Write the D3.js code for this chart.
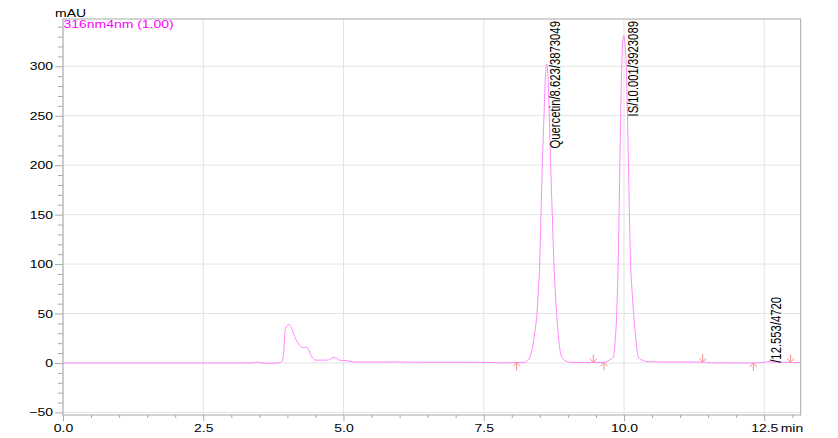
<!DOCTYPE html>
<html><head><meta charset="utf-8">
<script src="https://cdn.jsdelivr.net/npm/d3@7"></script>
<style>
html,body{margin:0;padding:0;background:#fff;}
svg{display:block;font-family:"Liberation Sans",Arial,sans-serif;}
</style></head>
<body>
<svg id="chart" width="838" height="438"></svg>
<script>
// ---- data ----
const traceTime = [0.00,3.40,3.45,3.50,3.60,3.75,3.85,3.90,3.93,3.96,4.00,4.034,4.07,4.105,4.15,4.194,4.24,4.283,4.33,4.355,4.38,4.403,4.45,4.492,4.60,4.73,4.78,4.83,4.88,4.94,5.057,5.175,5.50,5.90,5.95,6.00,6.50,7.00,7.50,7.70,7.80,7.90,8.00,8.10,8.235,8.29,8.324,8.37,8.41,8.449,8.475,8.497,8.52,8.544,8.574,8.60,8.622,8.645,8.668,8.693,8.722,8.752,8.775,8.80,8.84,8.889,8.95,9.00,9.068,9.30,9.45,9.60,9.66,9.74,9.809,9.84,9.870,9.896,9.912,9.926,9.941,9.960,9.978,9.998,10.018,10.040,10.062,10.080,10.097,10.118,10.145,10.172,10.215,10.255,10.32,10.40,10.49,10.80,11.20,11.45,11.50,12.00,12.30,12.40,12.50,12.553,12.65,12.80,13.00,13.15];
const traceSignal = [0,0,1.0,0.3,-0.2,-0.3,0.3,1.3,8,33,38,39,36,30,24,20,16.5,15.5,16,16,13,10,5,3,2.8,3,4.5,5.7,4.5,2.7,2.3,1.0,0.9,1.0,1.3,0.9,0.7,0.7,0.6,0.5,0.1,0.2,0.4,0.4,0.8,3,6,16,31,50,75,100,150,200,250,290,302,290,250,200,150,100,73,50,22,6,2.5,1.2,0.6,0.4,0.4,0.5,1,3,6,20,50,100,150,200,250,300,325,331,322,300,250,200,150,100,72,50,22,6,3,1.5,1.2,1.0,1.0,0.8,0.2,0.0,0.0,0.3,0.8,1.2,1.0,0.8,0.5,0.5];

const peakNames = ["Quercetin/8.623/3873049","IS/10.001/3923089","/12.553/4720"];
const peakTimes = [8.623,10.001,12.553];
const peakHeights = [302,331,1.2];

const markerTimes = [8.087,9.453,9.643,11.403,12.305,12.97];
const markerDirs = ["up","down","up","down","up","down"];

const xMajor = [0,2.5,5,7.5,10,12.5];
const xMinor = [0.5,1,1.5,2,3,3.5,4,4.5,5.5,6,6.5,7,8,8.5,9,9.5,10.5,11,11.5,12,13];
const yMajor = [-50,0,50,100,150,200,250,300];
const yMinor = [-40,-30,-20,-10,10,20,30,40,60,70,80,90,110,120,130,140,160,170,180,190,210,220,230,240,260,270,280,290,310,320,330,340];

const yUnit = "mAU";
const xUnit = "min";
const channelName = "316nm4nm (1.00)";

// ---- drawing ----
const SX = 1.27;           // horizontal stretch of the original export
const FS = 11;
const svg = d3.select("#chart");
const L = 63, R = 800.7, T = 19, B = 415;
const x = d3.scaleLinear().domain([0, 13.15]).range([L, R]);
const y = d3.scaleLinear().domain([-52.6, 347.8]).range([B, T]);

const gridC = "#e3e3e3", axisC = "#a8a8a8", traceC = "#ff88ff", markC = "#ff8c8c";

// grid
svg.append("g").selectAll("line").data(yMajor).join("line")
  .attr("x1", L).attr("x2", R).attr("y1", d => y(d)).attr("y2", d => y(d))
  .attr("stroke", gridC).attr("stroke-width", 1);
svg.append("g").selectAll("line").data(xMajor).join("line")
  .attr("x1", d => x(d)).attr("x2", d => x(d)).attr("y1", T).attr("y2", B)
  .attr("stroke", gridC).attr("stroke-width", 1);

// frame
svg.append("rect").attr("x", L).attr("y", T).attr("width", R - L).attr("height", B - T)
  .attr("fill", "none").attr("stroke", axisC).attr("stroke-width", 1);

function styleAxis(g) {
  g.select(".domain").remove();
  g.selectAll(".tick line").attr("stroke", axisC);
  g.selectAll("text").attr("font-size", FS).attr("fill", "#000");
}

// y axis
const yAx = svg.append("g").attr("transform", `translate(${L},0)`)
  .call(d3.axisLeft(y).tickValues(yMajor).tickSize(8).tickFormat(d3.format("d")));
styleAxis(yAx);
yAx.selectAll("text").attr("x", null).attr("dy", null)
  .attr("dominant-baseline", "central")
  .attr("transform", `translate(-10,0) scale(${SX},1)`);
const yAxm = svg.append("g").attr("transform", `translate(${L},0)`)
  .call(d3.axisLeft(y).tickValues(yMinor).tickSize(5).tickFormat(""));
styleAxis(yAxm);

// x axis
const xAx = svg.append("g").attr("transform", `translate(0,${B})`)
  .call(d3.axisBottom(x).tickValues(xMajor).tickSize(6).tickFormat(d3.format(".1f")));
styleAxis(xAx);
xAx.selectAll("text").attr("y", null).attr("dy", null)
  .attr("transform", `translate(0,17) scale(${SX},1)`);
const xAxm = svg.append("g").attr("transform", `translate(0,${B})`)
  .call(d3.axisBottom(x).tickValues(xMinor).tickSize(3).tickFormat(""));
styleAxis(xAxm);

// unit texts
svg.append("text").text(xUnit).attr("font-size", FS)
  .attr("transform", `translate(${x(12.5) + 16.5},${B + 17}) scale(${SX},1)`);
svg.append("text").text(yUnit).attr("font-size", FS)
  .attr("transform", `translate(55,17) scale(${SX},1)`);
svg.append("text").text(channelName).attr("font-size", FS).attr("fill", "#ff00ff")
  .attr("transform", `translate(${L + 0.5},28) scale(${SX},1)`);

// trace
svg.append("clipPath").attr("id", "clip").append("rect")
  .attr("x", L).attr("y", T).attr("width", R - L).attr("height", B - T);
const pts = traceTime.map((t, i) => [t, traceSignal[i]]);
svg.append("path").datum(pts)
  .attr("clip-path", "url(#clip)")
  .attr("fill", "none").attr("stroke", traceC).attr("stroke-width", 1)
  .attr("d", d3.line().x(d => x(d[0])).y(d => y(d[1])).curve(d3.curveMonotoneX));

// integration markers
const bis = d3.bisector(d => d[0]).left;
function valAt(t) {
  const i = Math.max(1, Math.min(pts.length - 1, bis(pts, t)));
  const a = pts[i - 1], b = pts[i];
  return a[1] + (b[1] - a[1]) * (t - a[0]) / (b[0] - a[0]);
}
const mk = svg.append("g").attr("stroke", markC).attr("stroke-width", 1).attr("fill", "none");
markerTimes.forEach((t, i) => {
  const px = x(t), py = y(valAt(t));
  const s = markerDirs[i] === "up" ? 1 : -1;
  mk.append("path").attr("d",
    `M${px},${py} L${px},${py + s * 8} M${px - 3.5},${py + s * 4} L${px},${py} L${px + 3.5},${py + s * 4}`);
});

// peak labels (rotated)
const LFS = 11.3;
peakNames.forEach((name, i) => {
  const px = x(peakTimes[i]) + 13.5;
  const t = svg.append("text").text(name).attr("font-size", LFS).attr("fill", "#000");
  const len = t.node().getComputedTextLength();
  let yb = y(peakHeights[i]) + 1;
  if (yb - len < T + 2) yb = T + 2 + len;
  t.attr("transform", `translate(${px},${yb}) scale(${SX},1) rotate(-90)`);
});
</script>
</body></html>
